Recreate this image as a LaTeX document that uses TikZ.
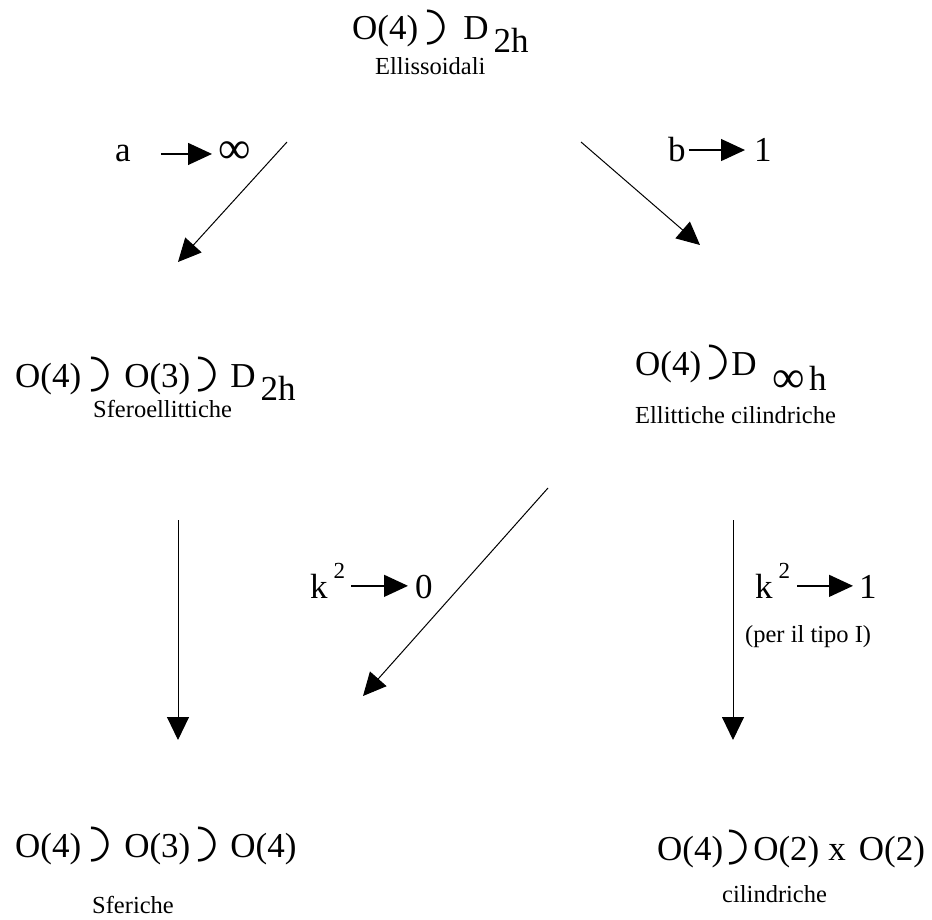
\documentclass[tikz,border=0pt]{standalone}
\usepackage{fontspec}
\setmainfont{Liberation Serif}
\newfontfamily\symf{DejaVu Sans}
\usepackage{graphicx}
\usetikzlibrary{arrows.meta}
% the "contains" arc between the groups
\newcommand{\sps}[2]{\hspace{#1pt}\hspace{8pt}\makebox[10pt][r]{\raisebox{6pt}{$\vcenter{\hbox{\rotatebox[origin=c]{-90}{\symf\fontsize{46}{46}\selectfont ◠}}}$}}\hspace{-8pt}\hspace{#2pt}}
\newcommand{\lowsub}[1]{\hspace{5pt}\raisebox{-13pt}{#1}}
\newcommand{\infy}{\raisebox{-2pt}{\scalebox{1.3}{∞}}}
\newcommand{\ksq}{k\hspace{6pt}\smash{\raisebox{20pt}{\fontsize{23}{23}\selectfont 2}}}
\tikzset{
  grp/.style={anchor=base west, inner sep=0pt, font=\fontsize{35}{40}\selectfont},
  nome/.style={anchor=base west, inner sep=0pt, font=\fontsize{24.5}{28}\selectfont},
  limarr/.style={-{Triangle[length=24pt,width=22pt]}, line width=1.3pt},
  passo/.style={-{Triangle[length=23pt,width=22pt]}, line width=1pt},
}
\begin{document}
\begin{tikzpicture}[x=1pt, y=-1pt]
    \useasboundingbox (0,0) rectangle (932,920);
    % groups and their names
    \node[grp] (ell) at (352,40) {O(4)\sps{9}{26}D\lowsub{2h}};
    \node[nome] (ellN) at (375,75) {Ellissoidali};
    \node[grp] (sfe) at (15,387) {O(4)\sps{10}{23}O(3)\sps{8}{22}D\lowsub{2h}};
    \node[nome] (sfeN) at (93,417) {Sferoellittiche};
    \node[grp] (ecil) at (635,375) {O(4)\sps{8}{12}D\hspace{16pt}\raisebox{-15pt}{\infy\hspace{4pt}h}};
    \node[nome] (ecilN) at (635,423) {Ellittiche cilindriche};
    \node[grp] (sfer) at (15,857) {O(4)\sps{10}{23}O(3)\sps{8}{22}O(4)};
    \node[nome] (sferN) at (92,913) {Sferiche};
    \node[grp] (cil) at (657,860) {O(4)\sps{6}{14}O(2)\hspace{9pt}x\hspace{13pt}O(2)};
    \node[nome] (cilN) at (722,902) {cilindriche};
    % limits
    \node[grp] (a) at (115,162) {a};
    \node[grp] (inf) at (218,162) {\infy};
    \node[grp] (b) at (668,162) {b};
    \node[grp] (uno) at (754,162) {1};
    \node[grp] (kz) at (310,598) {\ksq};
    \node[grp] (zero) at (415,598) {0};
    \node[grp] (ku) at (755,598) {\ksq};
    \node[grp] (unob) at (859,598) {1};
    \node[nome] (tipo) at (745,642) {(per il tipo I)};
    \draw[limarr, shorten <=30pt, shorten >=6pt] (a.east) -- (a.east -| inf.west);
    \draw[limarr, shorten <=3pt, shorten >=9pt] (b.east) -- (b.east -| uno.west);
    \draw[limarr, shorten <=6pt, shorten >=7pt] (kz.east) -- (kz.east -| zero.west);
    \draw[limarr, shorten <=7pt, shorten >=6pt] (ku.east) -- (ku.east -| unob.west);
    % transitions
    \coordinate (l1) at (287,142); \coordinate (l2) at (178,262);
    \coordinate (r1) at (581,142); \coordinate (r2) at (700,245);
    \coordinate (v1) at (178,520); \coordinate (v2) at (178,740);
    \coordinate (d1) at (548,488); \coordinate (d2) at (363,696);
    \coordinate (w1) at (733,520); \coordinate (w2) at (733,740);
    \draw[passo] (l1) -- (l2);\draw[passo] (r1) -- (r2);
    \draw[passo] (v1) -- (v2);\draw[passo] (d1) -- (d2);\draw[passo] (w1) -- (w2);
  \end{tikzpicture}
\end{document}
